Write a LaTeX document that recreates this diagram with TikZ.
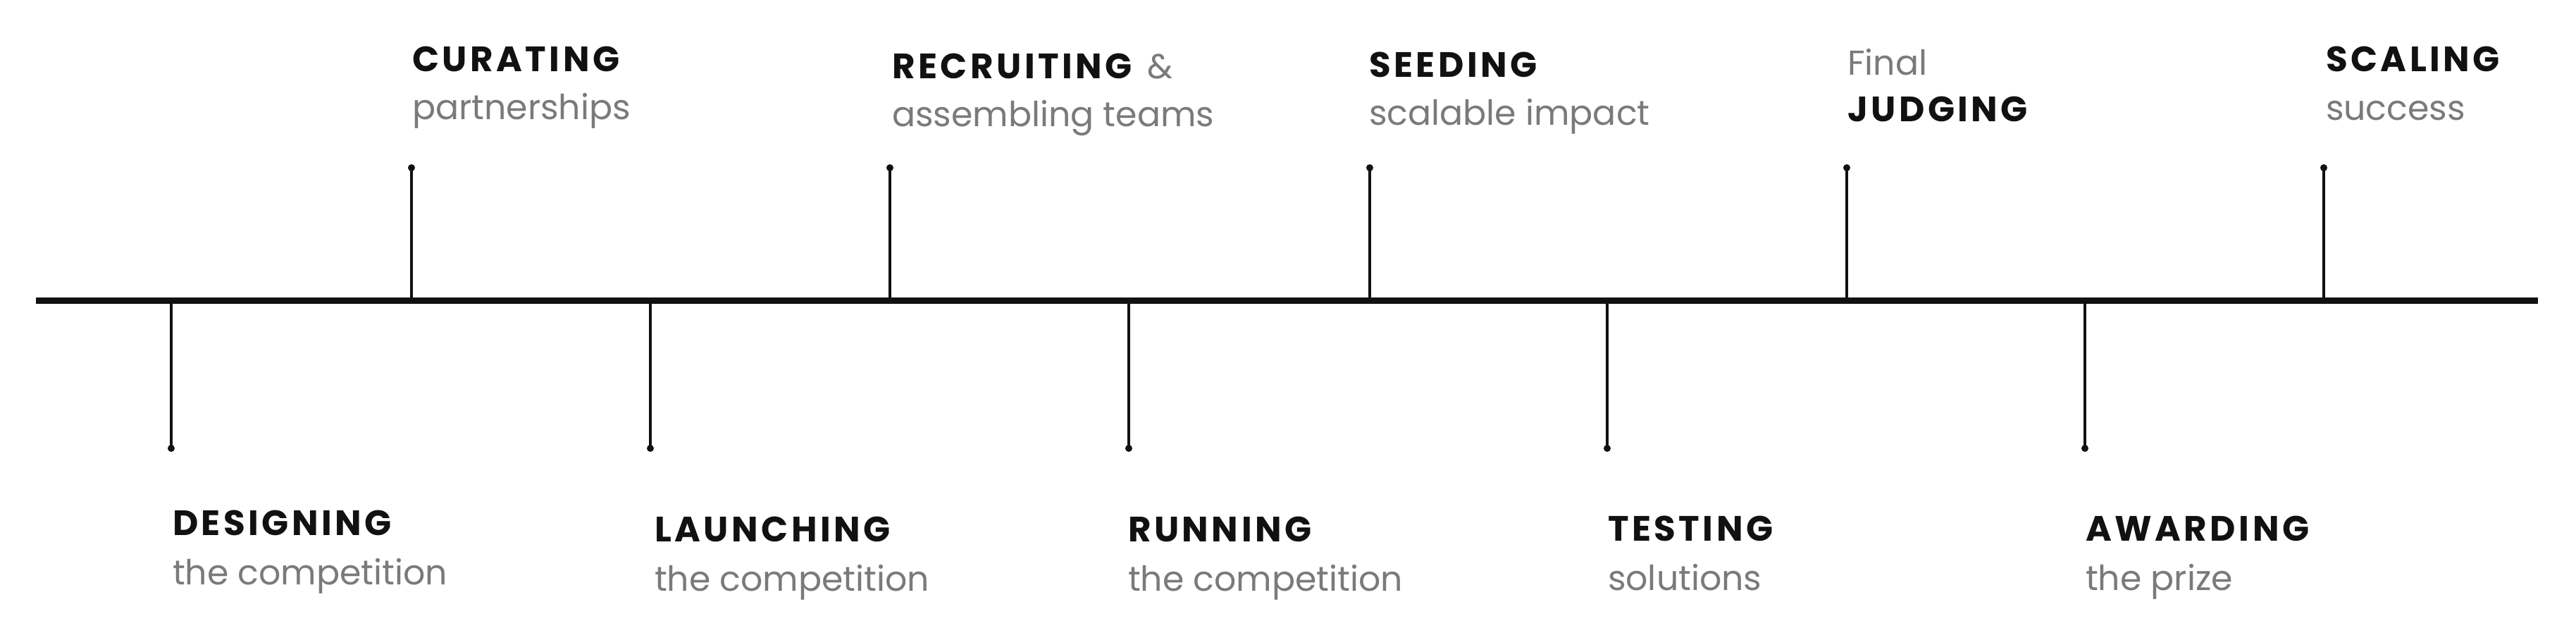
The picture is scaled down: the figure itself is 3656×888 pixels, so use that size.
\documentclass[tikz,border=0pt]{standalone}
\usepackage{fontspec}
\setmainfont{Poppins}
\newfontfamily\capfont[LetterSpace=9]{Poppins}
\definecolor{txtgray}{HTML}{7A7A7A}
\definecolor{ink}{HTML}{111111}
\begin{document}
\begin{tikzpicture}[x=0.2pt,y=-0.2pt,
  axis/.style={line width=1.8pt,draw=ink},
  stem/.style={line width=0.7pt,draw=ink},
  tipdot/.style={fill=ink},
  head/.style={anchor=base west,inner sep=0pt,text=ink,font=\capfont\bfseries\fontsize{10}{12}\selectfont},
  sub/.style={anchor=base west,inner sep=0pt,text=txtgray,font=\fontsize{9.8}{12}\selectfont}]
\useasboundingbox (0,0) rectangle (3656,888);
% main line
\coordinate (L) at (51,427);
\coordinate (R) at (3602,427);
\draw[axis] (L) -- (R);
% stems
\foreach \i/\x/\y in {1/243/636,2/584/238,3/923/636,4/1263/238,5/1602/636,6/1944/238,7/2281/636,8/2621/238,9/2959/636,10/3298/238}{
  \coordinate (b\i) at (\x,427);
  \coordinate (e\i) at (\x,\y);
  \draw[stem] (b\i) -- (e\i);
  \fill[tipdot] (e\i) circle (1pt);
}
% upper labels
\node[head] (curA) at (584,102) {CURATING};
\node[sub]  (curB) at (584,170) {partnerships};
\node[head] (recA) at (1265,112) {RECRUITING};
\node[sub,anchor=base west] (recAmp) at ([xshift=4pt]recA.base east) {\&};
\node[sub]  (recB) at (1265,180) {assembling teams};
\node[head] (seeA) at (1942,110) {SEEDING};
\node[sub]  (seeB) at (1942,178) {scalable impact};
\node[sub]  (judA) at (2621,107) {Final};
\node[head] (judB) at (2621,173) {JUDGING};
\node[head] (scaA) at (3300,102) {SCALING};
\node[sub]  (scaB) at (3300,171) {success};
% lower labels
\node[head] (desA) at (244,760) {DESIGNING};
\node[sub]  (desB) at (244,830) {the competition};
\node[head] (lauA) at (928,769) {LAUNCHING};
\node[sub]  (lauB) at (928,839) {the competition};
\node[head] (runA) at (1600,769) {RUNNING};
\node[sub]  (runB) at (1600,839) {the competition};
\node[head] (tesA) at (2281,768) {TESTING};
\node[sub]  (tesB) at (2281,838) {solutions};
\node[head] (awaA) at (2959,768) {AWARDING};
\node[sub]  (awaB) at (2959,838) {the prize};
\end{tikzpicture}
\end{document}
